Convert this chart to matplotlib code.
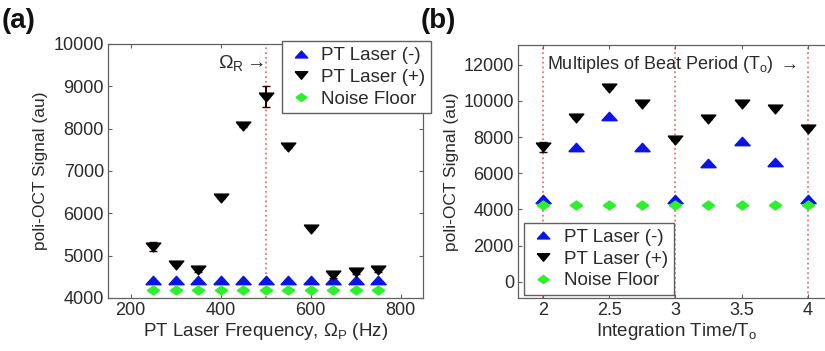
import numpy as np
import matplotlib
matplotlib.use("Agg")
import matplotlib.pyplot as plt
from matplotlib.lines import Line2D

plt.rcParams['font.family'] = ['Liberation Sans', 'DejaVu Sans']
plt.rcParams['mathtext.fontset'] = 'custom'
plt.rcParams['mathtext.rm'] = 'Liberation Sans'
plt.rcParams['mathtext.it'] = 'Liberation Sans'

# panel (a): signal vs PT laser frequency
freq = [250, 300, 350, 400, 450, 500, 550, 600, 650, 700, 750]
laser_minus_a = [4430, 4430, 4430, 4430, 4430, 4430, 4430, 4430, 4430, 4430, 4430]
laser_plus_a = [5210, 4790, 4660, 6370, 8070, 8750, 7560, 5620, 4540, 4620, 4670]
laser_plus_a_err = [110, 0, 40, 0, 30, 250, 30, 0, 60, 60, 50]
noise_a = [4200, 4200, 4200, 4200, 4200, 4200, 4200, 4200, 4200, 4200, 4200]
resonance = [500]

# panel (b): signal vs integration time
t_int = [2, 2.25, 2.5, 2.75, 3, 3.25, 3.5, 3.75, 4]
laser_minus_b = [4550, 7450, 9180, 7450, 4550, 6570, 7800, 6600, 4550]
laser_plus_b = [7450, 9050, 10710, 9850, 7850, 9000, 9850, 9570, 8450]
laser_plus_b_err = [300, 0, 0, 0, 0, 0, 0, 0, 0]
noise_b = [4250, 4270, 4250, 4270, 4270, 4270, 4250, 4250, 4270]
beat_multiples = [2, 3, 4]

labels = ['PT Laser (-)', 'PT Laser (+)', 'Noise Floor']

txt = '#2a2a2a'
spine = '#606060'
blue = '#0a14e6'
green = '#2cf02c'
red = '#e87272'

# the markers in the figure are squashed (wider than tall)
tri_up = [(-1, -0.55), (1, -0.55), (0, 0.55), (-1, -0.55)]
tri_down = [(-1, 0.6), (1, 0.6), (0, -0.6), (-1, 0.6)]
diamond = [(-1, 0), (0, 0.72), (1, 0), (0, -0.72), (-1, 0)]

fig = plt.figure(figsize=(8.25, 3.51), dpi=100)
ax1 = fig.add_axes([0.131, 0.151, 0.382, 0.724])
ax2 = fig.add_axes([0.628, 0.151, 0.383, 0.721])


def style(ax):
    for s in ax.spines.values():
        s.set_color(spine)
        s.set_linewidth(0.9)
    ax.tick_params(direction='in', top=True, right=True, length=3,
                   color=spine, labelsize=13, labelcolor=txt, pad=3)


def draw(ax, x, minus, plus, plus_err, noise, vlines):
    for v in vlines:
        ax.axvline(v, color=red, ls=':', lw=1.3, zorder=1)
    ax.plot(x, minus, ls='none', marker=tri_up, color=blue, ms=11, zorder=3)
    ax.errorbar(x, plus, yerr=plus_err, fmt='none', ecolor='#300000',
                elinewidth=1.5, capsize=3, zorder=4)
    ax.plot(x, plus, ls='none', marker=tri_down, color='black', ms=10.5, zorder=5)
    ax.plot(x, noise, ls='none', marker=diamond, color=green, ms=9, zorder=3)


def add_legend(ax, **kw):
    handles = [Line2D([], [], ls='none', marker=tri_up, color=blue, ms=9),
               Line2D([], [], ls='none', marker=tri_down, color='black', ms=9),
               Line2D([], [], ls='none', marker=diamond, color=green, ms=8)]
    leg = ax.legend(handles, labels, fontsize=13.5, handletextpad=0.4,
                    handlelength=1.4, borderpad=0.3, labelspacing=0.25,
                    fancybox=False, framealpha=1, borderaxespad=0, **kw)
    leg.get_frame().set_edgecolor(spine)
    for t in leg.get_texts():
        t.set_color(txt)


# (a)
draw(ax1, freq, laser_minus_a, laser_plus_a, laser_plus_a_err, noise_a, resonance)
ax1.text(495, 9560, r'$\Omega_R \rightarrow$', ha='right', va='center',
         fontsize=14, color=txt)
ax1.set_xlim(150, 850)
ax1.set_ylim(4000, 10000)
ax1.set_xticks([200, 400, 600, 800])
ax1.set_yticks(np.arange(4000, 10001, 1000))
ax1.set_xlabel(r'PT Laser Frequency, $\Omega_\mathrm{P}$ (Hz)', fontsize=13.5,
               color=txt, labelpad=1)
ax1.set_ylabel('poli-OCT Signal (au)', fontsize=12.5, color=txt, labelpad=4)
style(ax1)
add_legend(ax1, loc='upper right', bbox_to_anchor=(1.025, 1.01))

# (b)
draw(ax2, t_int, laser_minus_b, laser_plus_b, laser_plus_b_err, noise_b, beat_multiples)
ax2.text(2.03, 12000, r'Multiples of Beat Period (T$_\mathrm{o}$) $\rightarrow$',
         ha='left', va='center', fontsize=13, color=txt)
ax2.set_xlim(1.81, 4.2)
ax2.set_ylim(-900, 13100)
ax2.set_xticks([2, 2.5, 3, 3.5, 4])
ax2.set_xticklabels(['2', '2.5', '3', '3.5', '4'])
ax2.set_yticks(np.arange(0, 12001, 2000))
ax2.set_xlabel(r'Integration Time/T$_\mathrm{o}$', fontsize=13.5, color=txt, labelpad=1)
ax2.set_ylabel('poli-OCT Signal (au)', fontsize=12.5, color=txt, labelpad=3)
style(ax2)
add_legend(ax2, loc='lower left', bbox_to_anchor=(0.02, 0.012))

fig.text(0.002, 0.94, '(a)', fontsize=20, fontweight='bold', color='#111111', va='center')
fig.text(0.510, 0.94, '(b)', fontsize=20, fontweight='bold', color='#111111', va='center')

fig.savefig('out.png', dpi=100)
